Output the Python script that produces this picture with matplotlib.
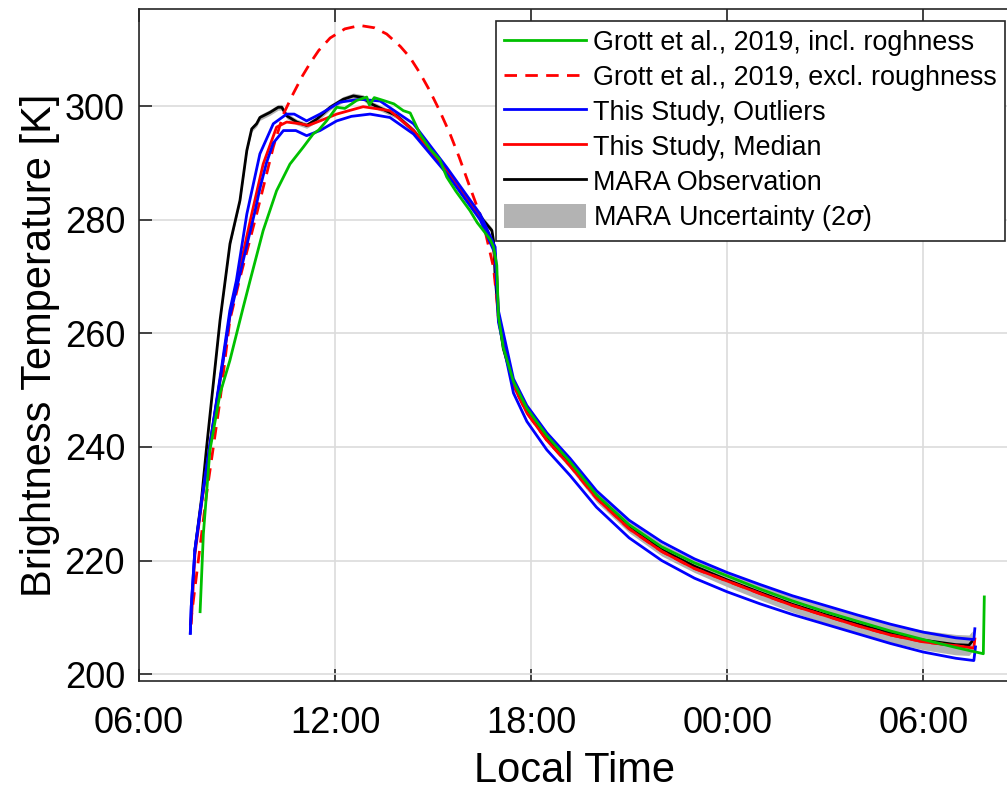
import matplotlib
matplotlib.use("Agg")
import matplotlib.pyplot as plt
from matplotlib.patches import Patch
from matplotlib.lines import Line2D
import numpy as np

plt.rcParams['font.family'] = ['Liberation Sans', 'DejaVu Sans']
plt.rcParams['mathtext.fontset'] = 'dejavusans'

# local time in hours (24+ = next day), brightness temperature in K
t_green = [7.87, 7.97, 8.17, 8.48, 8.78, 9.19, 9.4, 9.8, 10.21, 10.62, 11.03, 11.33, 11.5, 11.74,
           12.05, 12.3, 12.66, 12.97, 13.05, 13.2, 13.48, 13.8, 14.09, 14.3, 14.6, 14.9, 15.2,
           15.42, 15.7, 16.13, 16.35, 16.54, 16.75, 16.85, 16.95, 17.0, 17.15, 17.46, 17.87,
           18.48, 19.19, 20.0, 21.0, 22.0, 23.0, 24.0, 25.0, 26.0, 27.0, 28.0, 29.0, 30.0, 31.0,
           31.84, 31.87]
T_green = [211, 224.7, 239.4, 249.4, 255.2, 264.6, 269.3, 278.1, 285.1, 289.8, 292.8, 295.1, 295.8,
           297.4, 299.8, 299.6, 301.0, 301.6, 300.2, 301.5, 301.0, 300.4, 299.2, 298.8, 295.1,
           292.5, 290.6, 287.5, 285.0, 281.6, 279.5, 278.1, 276.5, 275.2, 272.0, 263.0, 257.5,
           251.5, 246.8, 242.0, 237.4, 231.6, 226.3, 222.4, 219.6, 217.3, 215.0, 212.9, 211.0,
           209.3, 207.6, 206.1, 204.7, 203.6, 213.6]

t_dash = [7.57, 8.07, 8.48, 8.78, 9.07, 9.6, 10.11, 10.42, 10.72, 11.0, 11.23, 11.5, 11.85, 12.3,
          12.76, 13.2, 13.58, 14.0, 14.29, 14.6, 14.9, 15.2, 15.52, 15.8, 16.13, 16.54, 16.85,
          16.95, 17.0, 17.46, 17.87, 18.48, 19.19, 20.0, 21.0, 22.0, 23.0, 24.0, 25.0, 26.0,
          27.0, 28.0, 29.0, 30.0, 31.0, 31.55]
T_dash = [208.6, 231.8, 248.2, 262.3, 269.3, 281.0, 292.8, 298.6, 302.2, 305.3, 307.5, 309.8, 312.0,
          313.6, 314.2, 313.8, 312.7, 310.5, 308.6, 305.8, 302.7, 299.2, 295.1, 291.0, 285.7,
          279.3, 271.6, 266.0, 262.5, 250.8, 246.0, 241.2, 236.7, 231.0, 225.6, 221.6, 218.6,
          216.4, 214.2, 212.1, 210.3, 208.5, 206.9, 205.7, 205.0, 204.6]

t_blue_hi = [7.57, 7.6, 7.71, 7.92, 8.22, 8.53, 8.78, 8.98, 9.3, 9.7, 10.11, 10.52, 10.75, 11.13,
             11.54, 12.15, 12.76, 13.38, 14.4, 15.42, 16.44, 16.9, 17.0, 17.46, 17.87, 18.48, 19.19,
             20.0, 21.0, 22.0, 23.0, 24.0, 25.0, 26.0, 27.0, 28.0, 29.0, 30.0, 31.0, 31.55, 31.58]
T_blue_hi = [207.2, 212.0, 221.8, 230.6, 242.3, 254.1, 264.0, 269.3, 281.0, 291.6, 296.9, 298.6,
             298.6, 297.4, 298.6, 300.7, 301.2, 300.9, 296.9, 289.2, 281.0, 275.2, 264.0, 252.0,
             247.3, 242.5, 238.0, 232.3, 227.1, 223.3, 220.3, 217.9, 215.8, 213.8, 212.1, 210.4,
             208.8, 207.4, 206.4, 206.1, 208.0]

t_blue_lo = [7.57, 7.6, 7.71, 7.92, 8.22, 8.53, 8.78, 9.03, 9.3, 9.55, 9.7, 9.9, 10.11, 10.42, 10.8,
             11.13, 11.54, 12.05, 12.5, 13.07, 13.68, 14.4, 15.42, 16.44, 16.9, 17.0, 17.46, 17.87,
             18.48, 19.19, 20.0, 21.0, 22.0, 23.0, 24.0, 25.0, 26.0, 27.0, 28.0, 29.0, 30.0, 31.0,
             31.55, 31.6]
T_blue_lo = [207.2, 212.0, 221.8, 230.6, 242.3, 253.5, 263.0, 269.0, 275.5, 281.5, 285.5, 290.0,
             293.5, 295.7, 295.7, 294.8, 295.7, 297.4, 298.2, 298.6, 298.0, 295.1, 288.1, 280.0,
             274.0, 262.0, 249.5, 244.5, 239.5, 235.0, 229.4, 224.0, 220.0, 216.9, 214.5, 212.4,
             210.5, 208.8, 207.1, 205.4, 203.9, 202.8, 202.4, 204.8]

t_red = [7.6, 7.71, 7.92, 8.22, 8.53, 8.78, 9.0, 9.45, 9.8, 10.21, 10.52, 10.93, 11.18, 11.54,
         12.05, 12.86, 13.68, 14.4, 15.42, 16.44, 16.85, 16.95, 17.0, 17.46, 17.87, 18.48, 19.19,
         20.0, 21.0, 22.0, 23.0, 24.0, 25.0, 26.0, 27.0, 28.0, 29.0, 30.0, 31.0, 31.55, 31.58]
T_red = [209.0, 221.0, 230.2, 242.0, 253.5, 263.0, 269.3, 281.0, 289.8, 296.3, 297.2, 296.9, 296.6,
         297.4, 298.6, 299.9, 299.2, 295.7, 288.7, 280.4, 275.2, 270.0, 262.8, 250.8, 246.0, 241.2,
         236.7, 231.0, 225.6, 221.6, 218.6, 216.4, 214.2, 212.1, 210.3, 208.5, 206.9, 205.7, 205.0,
         204.6, 206.2]

t_obs = [7.71, 7.92, 8.07, 8.22, 8.48, 8.785, 9.09, 9.3, 9.45, 9.6, 9.7, 10.01, 10.26, 10.37,
         10.52, 10.83, 11.13, 11.44, 11.85, 12.25, 12.56, 12.86, 13.07, 13.89, 14.4, 14.9, 15.52,
         16.03, 16.54, 16.8, 16.85, 16.9, 17.0, 17.15, 17.46, 17.87, 18.48, 19.19, 20.0, 21.0,
         22.0, 23.0, 24.0, 25.0, 26.0, 27.0, 28.0, 29.0, 30.0, 31.0, 31.4, 31.5]
T_obs = [221.8, 231.2, 240.0, 248.2, 262.3, 275.8, 283.4, 292.2, 296.0, 296.9, 298.0, 298.9, 299.8,
         299.8, 298.3, 297.2, 296.6, 297.7, 299.8, 301.2, 301.8, 301.5, 300.5, 298.3, 295.7, 292.2,
         287.5, 284.0, 279.9, 278.1, 276.3, 270.0, 263.0, 257.3, 251.2, 246.5, 241.7, 237.1, 231.3,
         225.9, 221.9, 219.0, 216.6, 214.4, 212.3, 210.5, 208.8, 207.2, 206.0, 205.2, 205.1, 205.8]
# 2 sigma half-width of the MARA observation
U_obs = [0.5, 0.5, 0.5, 0.5, 0.5, 0.5, 0.5, 0.5, 0.5, 0.5, 0.5, 0.5, 0.5, 0.5,
         0.5, 0.5, 0.5, 0.5, 0.5, 0.5, 0.5, 0.5, 0.5, 0.5, 0.5, 0.5, 0.5,
         0.5, 0.5, 0.5, 0.5, 0.6, 0.7, 0.7, 0.8, 0.8, 0.9, 0.9, 1.0, 1.0,
         1.1, 1.1, 1.2, 1.3, 1.4, 1.5, 1.5, 1.6, 1.7, 1.8, 1.8, 1.8]

labels = ['Grott et al., 2019, incl. roghness', 'Grott et al., 2019, excl. roughness',
          'This Study, Outliers', 'This Study, Median', 'MARA Observation',
          'MARA Uncertainty (2$\\sigma$)']

xticks = [6, 12, 18, 24, 30]
xticklabels = ['06:00', '12:00', '18:00', '00:00', '06:00']

fig = plt.figure(figsize=(10.07, 7.89), dpi=100)
ax = fig.add_axes([139 / 1007, 108 / 789, 871 / 1007, 672 / 789])

lw = 2.0
Tobs = np.array(T_obs)
Uobs = np.array(U_obs)
ax.fill_between(t_obs, Tobs - Uobs, Tobs + Uobs, color='#b3b3b3', lw=0, zorder=1)
ax.plot(t_obs, T_obs, color='k', lw=lw, zorder=2)
ax.plot(t_dash, T_dash, color='#ff0000', lw=lw, dashes=(4.5, 3), zorder=3)
ax.plot(t_red, T_red, color='#ff0000', lw=lw, zorder=4)
ax.plot(t_blue_hi, T_blue_hi, color='#0000ff', lw=lw, zorder=5)
ax.plot(t_blue_lo, T_blue_lo, color='#0000ff', lw=lw, zorder=5)
ax.plot(t_green, T_green, color='#00c000', lw=lw, zorder=6)

ax.set_xlim(6, 6 + 871 / 32.675)
ax.set_ylim(198.8, 317.1)
ax.set_xticks(xticks)
ax.set_xticklabels(xticklabels)
ax.set_yticks([200, 220, 240, 260, 280, 300])
ax.grid(True, color='#dcdcdc', lw=1.2)
ax.set_axisbelow(True)
for s in ax.spines.values():
    s.set_color('#262626')
    s.set_linewidth(1.2)
ax.tick_params(direction='in', length=9, width=1.2, top=True, right=False,
               labelsize=26, colors='#262626', labelcolor='k')
ax.tick_params(axis='x', pad=18)
ax.tick_params(axis='y', pad=10)
ax.set_xlabel('Local Time', fontsize=30, labelpad=7)
ax.set_ylabel('Brightness Temperature [K]', fontsize=30, labelpad=3)

handles = [Line2D([], [], color='#00c000', lw=lw),
           Line2D([], [], color='#ff0000', lw=lw, dashes=(4.5, 3)),
           Line2D([], [], color='#0000ff', lw=lw),
           Line2D([], [], color='#ff0000', lw=lw),
           Line2D([], [], color='k', lw=lw),
           Patch(facecolor='#b3b3b3', edgecolor='none')]
leg = ax.legend(handles, labels, loc='upper right', bbox_to_anchor=(1005 / 1007, 1 - 21 / 789),
                bbox_transform=fig.transFigure, fontsize=19.4, frameon=True, fancybox=False,
                edgecolor='#262626', framealpha=1, handlelength=3.05, handleheight=1.0,
                handletextpad=0.25, labelspacing=0.28, borderpad=0.3, borderaxespad=0)
leg.get_frame().set_linewidth(1.2)

fig.savefig('out.png', dpi=100)
